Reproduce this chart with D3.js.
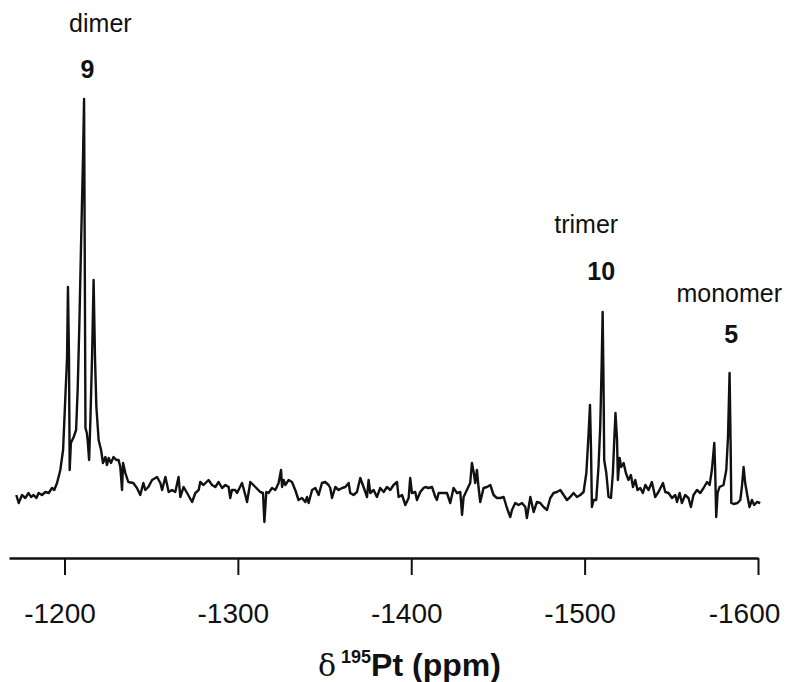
<!DOCTYPE html>
<html>
<head>
<meta charset="utf-8">
<script src="https://cdn.jsdelivr.net/npm/d3@7"></script>
<style>
    body { margin: 0; background: #fff; }
    svg { display: block; font-family: "Liberation Sans", Arial, Helvetica, sans-serif; }
</style>
</head>
<body>
<div id="chart"></div>
<script>
const width = 785;
const height = 682;

// 195Pt spectrum: [chemical shift (ppm), intensity (arb. units)]
const spectrum = [
    [-1172.2, -5], [-1173.6, -13], [-1175.5, -5], [-1177.4, -8], [-1179.3, -3],
    [-1180.7, -7], [-1182.2, -5], [-1183.8, -8], [-1185.1, -3], [-1187.0, -5],
    [-1189.0, -2], [-1190.9, -3], [-1192.8, 2], [-1194.1, 0], [-1195.7, 7],
    [-1197.6, 20], [-1199.2, 40], [-1200.5, 93], [-1201.5, 133], [-1202.0, 203],
    [-1202.6, 133], [-1203.0, 20], [-1203.7, 47], [-1205.3, 53], [-1206.7, 60],
    [-1207.6, 100], [-1208.6, 167], [-1209.7, 257], [-1210.7, 333], [-1211.3, 391],
    [-1211.8, 190], [-1212.1, 62], [-1212.9, 57], [-1213.5, 47], [-1214.2, 30],
    [-1214.9, 67], [-1215.9, 133], [-1216.8, 210], [-1217.6, 133], [-1218.4, 83],
    [-1219.7, 50], [-1221.1, 40], [-1222.2, 27], [-1223.6, 33], [-1224.5, 25],
    [-1225.5, 32], [-1226.8, 27], [-1228.3, 33], [-1229.9, 30], [-1231.2, 30],
    [-1232.2, 23], [-1233.2, 0], [-1233.8, 27], [-1235.1, 17], [-1236.8, 8],
    [-1239.7, 7], [-1241.8, 2], [-1243.7, -5], [-1245.5, 7], [-1246.6, 0],
    [-1248.4, 3], [-1250.5, 10], [-1253.4, 13], [-1255.3, 7], [-1256.3, 0],
    [-1258.2, 13], [-1260.1, -2], [-1262.0, 0], [-1263.9, -2], [-1265.8, 13],
    [-1266.8, -7], [-1268.7, 3], [-1270.7, -3], [-1273.6, -12], [-1275.5, -3],
    [-1277.4, 0], [-1278.3, 8], [-1280.2, 5], [-1283.1, 10], [-1285.1, 5],
    [-1287.0, 3], [-1288.9, 8], [-1290.9, 2], [-1292.8, 5], [-1294.7, 3],
    [-1295.6, -8], [-1296.6, 0], [-1298.5, 0], [-1299.5, -3], [-1302.4, 7],
    [-1304.3, -5], [-1305.3, -12], [-1307.2, 8], [-1310.1, 3], [-1312.9, -2],
    [-1314.5, -3], [-1315.3, -32], [-1316.4, -2], [-1317.7, -3], [-1319.7, 2],
    [-1321.6, 0], [-1323.5, 7], [-1324.9, 20], [-1325.5, 3], [-1326.4, 10],
    [-1327.4, 5], [-1329.3, 10], [-1331.2, 8], [-1333.1, 0], [-1335.0, -10],
    [-1337.0, -8], [-1338.9, -12], [-1339.9, -7], [-1340.8, -13], [-1342.8, 0],
    [-1344.7, 2], [-1346.6, -5], [-1348.5, 7], [-1350.4, 8], [-1352.3, 5],
    [-1353.3, 2], [-1354.3, -8], [-1356.2, 3], [-1358.1, 0], [-1360.1, 2],
    [-1362.0, 3], [-1363.9, 7], [-1364.8, -3], [-1366.7, -5], [-1368.7, -2],
    [-1370.6, 12], [-1372.5, 3], [-1374.5, -7], [-1375.4, 10], [-1376.4, -3],
    [-1378.3, 0], [-1380.2, -7], [-1382.1, 2], [-1384.1, -2], [-1386.0, 3],
    [-1387.9, 0], [-1389.8, 5], [-1391.8, 8], [-1392.7, -7], [-1394.7, -5],
    [-1396.6, -15], [-1398.5, -8], [-1399.4, 12], [-1400.4, -3], [-1402.3, -2],
    [-1403.3, -10], [-1405.2, -2], [-1407.1, 2], [-1408.1, 3], [-1410.0, 2],
    [-1412.0, 3], [-1413.9, -7], [-1414.8, -10], [-1415.8, -3], [-1417.7, -3],
    [-1420.6, -3], [-1422.5, -13], [-1424.4, 2], [-1426.4, -3], [-1428.3, -2],
    [-1429.3, -25], [-1430.2, -7], [-1432.1, 0], [-1434.0, 7], [-1435.0, 27],
    [-1436.0, 18], [-1436.9, 7], [-1437.9, 20], [-1438.8, 3], [-1439.8, -12],
    [-1441.7, 2], [-1443.7, 3], [-1445.6, 5], [-1447.5, -5], [-1449.4, -8],
    [-1451.4, -8], [-1453.3, -7], [-1455.2, -18], [-1457.1, -27], [-1458.1, -20],
    [-1460.0, -13], [-1461.9, -15], [-1463.9, -13], [-1465.8, -17], [-1466.7, -28],
    [-1468.7, -7], [-1470.6, -22], [-1472.5, -12], [-1474.4, -13], [-1476.3, -17],
    [-1478.3, -20], [-1480.2, -8], [-1482.1, -3], [-1484.0, -2], [-1486.0, 0],
    [-1487.9, -5], [-1489.8, -10], [-1491.7, -7], [-1493.6, -3], [-1495.6, -7],
    [-1497.5, -5], [-1499.4, -2], [-1501.0, 17], [-1502.3, 57], [-1503.1, 85],
    [-1503.7, 40], [-1504.2, -17], [-1505.2, -10], [-1506.7, -10], [-1508.0, 23],
    [-1509.0, 63], [-1509.8, 123], [-1510.4, 178], [-1510.9, 107], [-1511.3, 30],
    [-1512.5, 17], [-1513.8, -7], [-1515.2, -8], [-1516.3, 17], [-1517.1, 50],
    [-1517.8, 77], [-1518.7, 50], [-1519.2, 10], [-1520.2, 32], [-1521.1, 23],
    [-1522.5, 27], [-1523.8, 17], [-1525.3, 10], [-1526.7, 15], [-1527.9, 3],
    [-1529.2, 10], [-1530.5, 0], [-1532.1, 2], [-1533.6, -3], [-1535.0, 5],
    [-1536.9, 0], [-1538.8, 8], [-1540.7, -7], [-1542.6, -2], [-1545.2, 7],
    [-1546.5, -2], [-1548.4, -3], [-1550.4, -8], [-1552.3, -5], [-1553.3, -12],
    [-1554.8, -3], [-1556.1, -13], [-1558.0, -5], [-1559.9, -8], [-1561.3, -17],
    [-1562.8, -5], [-1564.8, 0], [-1566.7, -3], [-1568.6, 2], [-1570.6, 8],
    [-1572.1, 5], [-1573.4, 20], [-1574.8, 47], [-1575.3, 20], [-1575.9, -27],
    [-1576.7, -3], [-1577.8, 3], [-1580.1, 5], [-1581.7, 20], [-1582.7, 53],
    [-1583.6, 117], [-1584.2, 47], [-1584.6, -13], [-1585.9, -14], [-1588.2, -13],
    [-1589.8, -10], [-1590.7, 3], [-1591.7, 23], [-1592.6, 7], [-1594.0, -7],
    [-1595.1, -17], [-1596.5, -10], [-1597.8, -15], [-1599.4, -12], [-1601.3, -13]
];

const tickValues = [-1200, -1300, -1400, -1500, -1600];
const axisTitleSymbol = "\u03b4";
const axisTitleIsotope = "195";
const axisTitleRest = "Pt (ppm)";

// peak annotations
const peakNames = ["dimer", "trimer", "monomer"];
const peakNumbers = ["9", "10", "5"];
const peakNameShifts = [-1220.7, -1500.9, -1583.4];
const peakNumberShifts = [-1213.2, -1509.6, -1584.6];

const svg = d3
    .select("#chart")
    .append("svg")
    .attr("width", width)
    .attr("height", height);

const x = d3.scaleLinear().domain([-1168, -1600]).range([9, 758]);
const y = d3.scaleLinear().domain([-40, 400]).range([530, 90]);

const line = d3
    .line()
    .x((d) => x(d[0]))
    .y((d) => y(d[1]));

svg.append("path")
    .datum(spectrum)
    .attr("fill", "none")
    .attr("stroke", "#111")
    .attr("stroke-width", 2.4)
    .attr("stroke-linejoin", "round")
    .attr("d", line);

// x axis
const axisY = 558;
const gx = svg
    .append("g")
    .attr("transform", `translate(0,${axisY})`)
    .call(
        d3
            .axisBottom(x)
            .tickValues(tickValues)
            .tickSize(17)
            .tickSizeOuter(0)
            .tickFormat((d) => String(d))
    );

gx.select(".domain").attr("stroke", "#111").attr("stroke-width", 2.4);
gx.selectAll(".tick line").attr("stroke", "#111").attr("stroke-width", 2);
gx.selectAll(".tick text")
    .attr("y", 65)
    .attr("dy", null)
    .attr("dx", (d, i) => (i === tickValues.length - 1 ? -14 : -5))
    .attr("fill", "#111")
    .style("font-size", "28px")
    .style("font-family", '"Liberation Sans", Arial, sans-serif');

// axis title
const title = svg
    .append("text")
    .attr("x", 318)
    .attr("y", 676)
    .attr("fill", "#111")
    .style("font-size", "32px");
title.append("tspan")
    .style("font-family", '"DejaVu Serif", serif')
    .style("font-size", "30px")
    .text(axisTitleSymbol);
title.append("tspan")
    .attr("dx", 5)
    .attr("dy", -13)
    .style("font-weight", "bold")
    .style("font-size", "18px")
    .text(axisTitleIsotope);
title.append("tspan")
    .attr("dy", 13)
    .style("font-weight", "bold")
    .text(axisTitleRest);

// peak labels
const nameY = [32, 233, 302];
const numberY = [78, 280, 343];

peakNames.forEach((name, i) => {
    svg.append("text")
        .attr("x", x(peakNameShifts[i]))
        .attr("y", nameY[i])
        .attr("text-anchor", "middle")
        .attr("fill", "#111")
        .style("font-size", "25px")
        .text(name);
    svg.append("text")
        .attr("x", x(peakNumberShifts[i]))
        .attr("y", numberY[i])
        .attr("text-anchor", "middle")
        .attr("fill", "#111")
        .style("font-size", "25px")
        .style("font-weight", "bold")
        .text(peakNumbers[i]);
});
</script>
</body>
</html>
